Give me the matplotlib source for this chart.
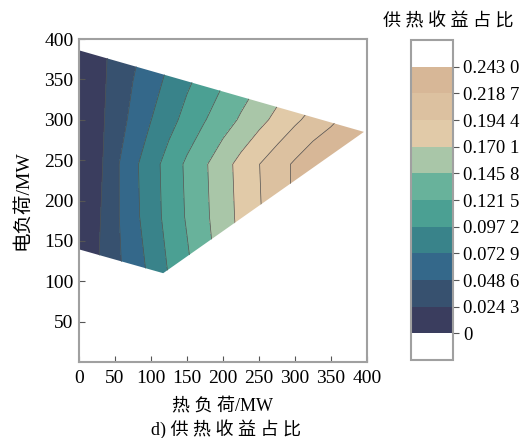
import numpy as np
import matplotlib
matplotlib.use('Agg')
import matplotlib.pyplot as plt
from matplotlib.colors import ListedColormap
from matplotlib.patches import Polygon

plt.rcParams['font.family'] = ['Liberation Serif', 'Noto Sans CJK SC']
plt.rcParams['axes.unicode_minus'] = False

# grid of heat load (x) and electric load (y), MW
heat = [0, 25, 50, 75, 100, 125, 150, 175, 200, 225, 250, 275, 300, 325, 350, 375, 400]
elec = [110, 180, 245, 300, 390]

# share of heating revenue at each grid node (rows follow elec)
share = [
    [0.0038, 0.0228, 0.0418, 0.0597, 0.0779, 0.0986, 0.1165, 0.1356, 0.1546,
     0.1727, 0.1891, 0.2050, 0.2206, 0.2361, 0.2429, 0.2429, 0.2429],
    [0.0000, 0.0195, 0.0434, 0.0652, 0.0859, 0.1054, 0.1239, 0.1413, 0.1590,
     0.1762, 0.1922, 0.2071, 0.2220, 0.2368, 0.2429, 0.2429, 0.2429],
    [0.0000, 0.0155, 0.0431, 0.0666, 0.0872, 0.1068, 0.1257, 0.1430, 0.1608,
     0.1778, 0.1938, 0.2080, 0.2221, 0.2362, 0.2429, 0.2429, 0.2429],
    [0.0000, 0.0161, 0.0357, 0.0547, 0.0725, 0.0890, 0.1050, 0.1205, 0.1347,
     0.1488, 0.1627, 0.1764, 0.1900, 0.2023, 0.2141, 0.2259, 0.2376],
    [0.0032, 0.0165, 0.0298, 0.0432, 0.0565, 0.0698, 0.0827, 0.0954, 0.1074,
     0.1192, 0.1302, 0.1410, 0.1515, 0.1617, 0.1720, 0.1828, 0.1936],
]

# feasible operating region (heat, elec)
region_heat = [0, 396, 117, 0]
region_elec = [386, 285, 110, 139.5]

levels = [0, 0.0243, 0.0486, 0.0729, 0.0972, 0.1215, 0.1458, 0.1701, 0.1944, 0.2187, 0.2430]
band_colors = ['#3a3d5e', '#37516f', '#34688a', '#39838a', '#4ba093',
               '#68b29b', '#a9c6a8', '#e1caa8', '#dcc1a0', '#d7b797']

cmap = ListedColormap(band_colors)
cmap.set_over('white')
cmap.set_under('white')

X, Y = np.meshgrid(heat, elec)
Z = np.array(share)

fig = plt.figure(figsize=(5.32, 4.38), dpi=100)
ax = fig.add_axes([0.1485, 0.1735, 0.541, 0.7374])
cax = fig.add_axes([0.7726, 0.178, 0.079, 0.7306])

cs = ax.contourf(X, Y, Z, levels=levels, cmap=cmap, extend='both')
cl = ax.contour(X, Y, Z, levels=levels[1:-1], colors='#505050', linewidths=0.5)

poly = Polygon(list(zip(region_heat, region_elec)), closed=True,
               facecolor='none', edgecolor='none', transform=ax.transData)
ax.add_patch(poly)
cs.set_clip_path(poly)
cl.set_clip_path(poly)

ax.set_xlim(0, 400)
ax.set_ylim(0, 400)
ax.set_xticks([0, 50, 100, 150, 200, 250, 300, 350, 400])
ax.set_yticks([50, 100, 150, 200, 250, 300, 350, 400])
ax.tick_params(direction='in', length=4, width=0.8, color='#555555',
               labelsize=14, pad=4)
ax.tick_params(axis='x', pad=6)
for sp in ax.spines.values():
    sp.set_color('#a0a0a0')
    sp.set_linewidth(1.5)

ax.set_xlabel('热 负 荷/MW', fontsize=13, labelpad=7)
ax.set_ylabel('电负荷/MW', fontsize=14, labelpad=9)

cbar = fig.colorbar(cs, cax=cax, ticks=levels, extendrect=True, extendfrac=0.1)
cbar.outline.set_edgecolor('#a0a0a0')
cbar.outline.set_linewidth(1.5)


def fmt(v):
    if v == 0:
        return '0'
    s = '%.4f' % v
    return s[:-1] + ' ' + s[-1]


cbar.ax.set_yticklabels([fmt(v) for v in levels])
cbar.ax.tick_params(direction='out', length=4, width=0.8, color='#555555',
                    labelsize=13.5, pad=3)
cax.set_title('供 热 收 益 占 比', fontsize=13, pad=10, x=0.88)

fig.text(0.425, 0.006, 'd) 供 热 收 益 占 比', fontsize=13, ha='center', va='baseline')

fig.savefig('out.png', dpi=100, facecolor='white')
